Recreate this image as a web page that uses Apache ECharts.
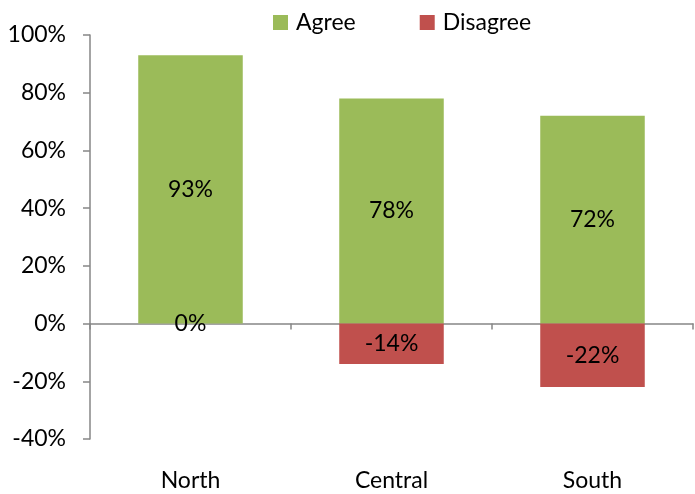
<!DOCTYPE html>
<html>
<head>
<meta charset="utf-8">
<script src="https://cdn.jsdelivr.net/npm/echarts@6/dist/echarts.min.js"></script>
<style>
  html, body { margin: 0; padding: 0; background: #fff; }
  #chart { width: 695px; height: 494px; }
</style>
</head>
<body>
<div id="chart"></div>
<script>
// data
const regions = ["North", "Central", "South"];
const agree = [93, 78, 72];
const disagree = [0, -14, -22];

const FONT = "Lato";
const FS = 23;
const AXIS_GREY = "#868686";

const chart = echarts.init(document.getElementById("chart"));

const barLabel = {
  show: true,
  position: "inside",
  fontSize: FS,
  color: "#000",
  fontFamily: FONT,
  formatter: p => p.value + "%"
};

chart.setOption({
  animation: false,
  textStyle: { fontFamily: FONT, color: "#000" },
  legend: {
    top: 6,
    left: 268,
    itemWidth: 15,
    itemHeight: 15,
    itemGap: 64,
    icon: "rect",
    textStyle: { fontSize: FS, fontFamily: FONT, color: "#000", padding: [0, 0, 0, 3] },
    data: ["Agree", "Disagree"]
  },
  grid: { left: 90, top: 35, right: 2, bottom: 55 },
  xAxis: [
    {
      // bottom labels only
      type: "category",
      data: regions,
      position: "bottom",
      axisLine: { show: false, onZero: false },
      axisTick: { show: false },
      axisLabel: { fontSize: FS, margin: 30, color: "#000", fontFamily: FONT }
    },
    {
      // line and ticks at zero
      type: "category",
      data: regions,
      position: "bottom",
      axisLine: { show: true, onZero: true, lineStyle: { color: AXIS_GREY, width: 1.5 } },
      axisTick: { show: true, length: 6, lineStyle: { color: AXIS_GREY, width: 1.5 } },
      axisLabel: { show: false }
    }
  ],
  yAxis: {
    type: "value",
    min: -40,
    max: 100,
    interval: 20,
    axisLine: { show: true, lineStyle: { color: AXIS_GREY, width: 1.5 } },
    axisTick: { show: true, length: 7, lineStyle: { color: AXIS_GREY, width: 1.5 } },
    splitLine: { show: false },
    axisLabel: {
      fontSize: FS,
      margin: 24,
      color: "#000",
      fontFamily: FONT,
      formatter: "{value}%"
    }
  },
  series: [
    {
      name: "Agree",
      type: "bar",
      xAxisIndex: 0,
      barWidth: "52%",
      barGap: "-100%",
      itemStyle: { color: "#9BBB59" },
      label: barLabel,
      data: agree
    },
    {
      name: "Disagree",
      type: "bar",
      xAxisIndex: 0,
      barWidth: "52%",
      barGap: "-100%",
      itemStyle: { color: "#C0504D" },
      label: barLabel,
      data: disagree
    }
  ]
});
</script>
</body>
</html>
